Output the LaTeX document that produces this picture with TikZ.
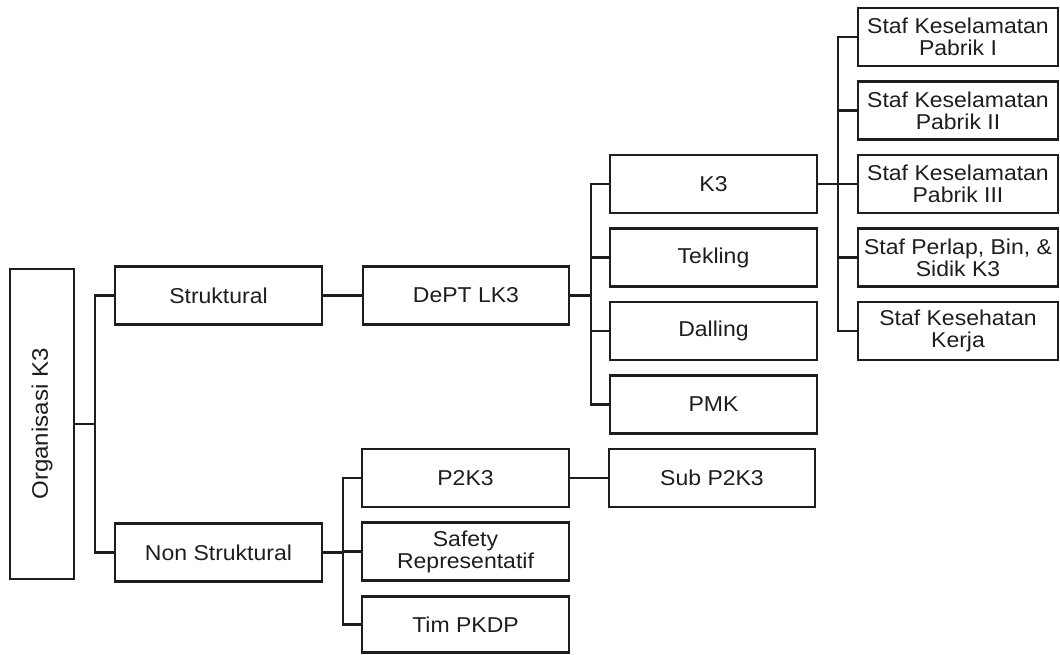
\documentclass[tikz,border=0pt]{standalone}
\usepackage{fontspec}
\setmainfont[FakeStretch=1.07]{Liberation Sans}
\usetikzlibrary{calc}
\definecolor{ink}{HTML}{1E1E1E}
\tikzset{
  box/.style={draw=ink, line width=2.2pt, rectangle, inner sep=0pt, align=center,
    minimum width=207pt, minimum height=58pt, text=ink,
    font=\fontsize{21.5}{22}\selectfont},
  stafbox/.style={box, minimum width=200pt},
  link/.style={draw=ink, line width=2.2pt},
}
\begin{document}
\begin{tikzpicture}[x=1pt,y=-1pt]
\useasboundingbox (0,0) rectangle (1060,655);
% level 0
\node[box, minimum width=64pt, minimum height=310pt] (org) at (42,424) {};
\node[text=ink, font=\fontsize{22.5}{23}\selectfont, rotate=90] (orgt) at (org.center) {Organisasi K3};
% level 1
\node[box] (strukt) at (218.5,295.5) {Struktural};
\node[box] (nonst) at (218.5,552.5) {Non Struktural};
% level 2
\node[box, minimum width=206pt] (dept) at (466,295.5) {DePT LK3};
\node[box] (p2k3) at (465.5,478) {P2K3};
\node[box] (safety) at (465.5,551.5) {Safety\\Representatif};
\node[box, minimum height=56pt] (tim) at (465.5,624.5) {Tim PKDP};
% level 3
\node[box] (k3) at (713.5,184) {K3};
\node[box] (tekling) at (713.5,257.5) {Tekling};
\node[box] (dalling) at (713.5,331) {Dalling};
\node[box] (pmk) at (713.5,404.5) {PMK};
\node[box, minimum width=206pt] (sub) at (712,478) {Sub P2K3};
% level 4
\node[stafbox] (s1) at (958,37) {Staf Keselamatan\\Pabrik I};
\node[stafbox] (s2) at (958,110.5) {Staf Keselamatan\\Pabrik II};
\node[stafbox] (s3) at (958,184) {Staf Keselamatan\\Pabrik III};
\node[stafbox] (s4) at (958,257.5) {Staf Perlap, Bin, \&\\Sidik K3};
\node[stafbox] (s5) at (958,331) {Staf Kesehatan\\Kerja};
% connectors
\draw[link] (org.east) -- ++(20,0) coordinate (b1);
\draw[link] (strukt.west) -| (b1) |- (nonst.west);
\draw[link] (strukt.east) -- (dept.west);
\draw[link] (dept.east) -- ++(21,0) coordinate (b2);
\draw[link] (k3.west) -| (b2) |- (pmk.west);
\draw[link] (tekling.west) -- (tekling.west -| b2);
\draw[link] (dalling.west) -- (dalling.west -| b2);
\draw[link] (k3.east) -- ++(20,0) coordinate (b3);
\draw[link] (s1.west) -| (b3) |- (s5.west);
\draw[link] (b3) -- (s3.west);
\draw[link] (s2.west) -- (s2.west -| b3);
\draw[link] (s4.west) -- (s4.west -| b3);
\draw[link] (nonst.east) -- ++(20,0) coordinate (b4);
\draw[link] (p2k3.west) -| (b4) |- (tim.west);
\draw[link] (safety.west) -- (safety.west -| b4);
\draw[link] (p2k3.east) -- (sub.west);
\end{tikzpicture}
\end{document}
